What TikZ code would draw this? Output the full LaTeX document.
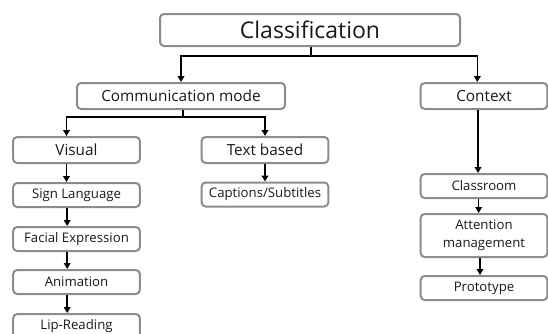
\documentclass[tikz,border=0pt]{standalone}
\usepackage{fontspec}
\setmainfont{Open Sans}
\usetikzlibrary{arrows.meta}
\definecolor{boxgray}{RGB}{140,140,140}
\definecolor{txt}{RGB}{25,25,25}
\begin{document}
\begin{tikzpicture}[x=0.75pt,y=-0.75pt,
  box/.style={draw=boxgray, line width=1.5pt, rounded corners=3pt, inner sep=0pt,
    text=txt, align=center, minimum width=95pt, minimum height=18pt,
    font=\fontsize{9.9}{13.5}\selectfont},
  midbox/.style={box, minimum height=19.5pt, font=\fontsize{11.5}{14}\selectfont},
  topbox/.style={box, minimum width=225pt, minimum height=24pt, font=\fontsize{17.25}{20}\selectfont},
  arr/.style={black, line width=1.1pt, -{Triangle[width=5pt,length=4.5pt]}},
  ln/.style={black, line width=1.1pt}]
\useasboundingbox (0,0) rectangle (548,333);
% top level
\node[topbox] (classif) at (310,30) {Classification};
\node[midbox, minimum width=156pt] (comm) at (181,96) {Communication mode};
\node[midbox] (context) at (484,96) {Context};
% communication mode branch
\node[midbox] (visual) at (76.5,150) {Visual};
\node[midbox] (textb) at (265,150) {Text based};
\node[box] (sign) at (76.5,195) {Sign Language};
\node[box] (facial) at (76.5,239) {Facial Expression};
\node[box] (anim) at (76.5,282) {Animation};
\node[box] (lip) at (76.5,326) {Lip-Reading};
\node[box] (capt) at (265,194.5) {Captions/Subtitles};
% context branch
\node[box] (classroom) at (484,186) {Classroom};
\node[box, minimum height=32.25pt] (attn) at (484,235.5) {Attention\\management};
\node[box] (proto) at (484,288) {Prototype};
% connectors
\coordinate (j1) at (311,56);
\coordinate (j2) at (183,117);
\draw[ln] (classif.south -| j1) -- (j1);
\draw[arr] (j1) -| (comm.north);
\draw[arr] (j1) -| ([xshift=-5pt]context.north);
\draw[ln] (comm.south -| j2) -- (j2);
\draw[arr] (j2) -| ([xshift=-7.5pt]visual.north);
\draw[arr] (j2) -| (textb.north);
\draw[arr] ([xshift=-7.5pt]visual.south) -- ([xshift=-7.5pt]sign.north);
\draw[arr] ([xshift=-7pt]sign.south) -- ([xshift=-7pt]facial.north);
\draw[arr] ([xshift=-7pt]facial.south) -- ([xshift=-7pt]anim.north);
\draw[arr] ([xshift=-7pt]anim.south) -- ([xshift=-7pt]lip.north);
\draw[arr] (textb.south) -- (capt.north);
\draw[arr] ([xshift=-4.5pt]context.south) -- ([xshift=-4.5pt]classroom.north);
\draw[arr] ([xshift=-4pt]classroom.south) -- ([xshift=-4pt]attn.north);
\draw[arr] ([xshift=-3pt]attn.south) -- ([xshift=-3pt]proto.north);
\end{tikzpicture}
\end{document}
